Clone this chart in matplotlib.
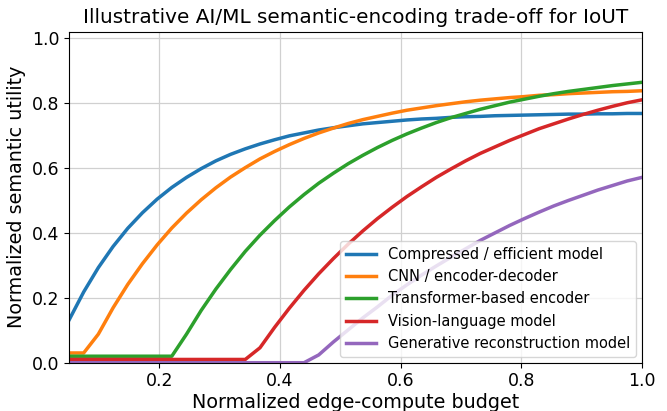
import matplotlib

matplotlib.use("Agg")
import matplotlib.pyplot as plt  # noqa: E402

# edge-compute budget grid (40 samples between 0.05 and 1.0)
budget = [0.0500, 0.0744, 0.0987, 0.1231, 0.1474, 0.1718, 0.1962, 0.2205,
          0.2449, 0.2692, 0.2936, 0.3179, 0.3423, 0.3667, 0.3910, 0.4154,
          0.4397, 0.4641, 0.4885, 0.5128, 0.5372, 0.5615, 0.5859, 0.6103,
          0.6346, 0.6590, 0.6833, 0.7077, 0.7321, 0.7564, 0.7808, 0.8051,
          0.8295, 0.8538, 0.8782, 0.9026, 0.9269, 0.9513, 0.9756, 1.0000]

compressed = [0.131, 0.218, 0.293, 0.358, 0.414, 0.462, 0.504, 0.540,
              0.571, 0.598, 0.622, 0.642, 0.659, 0.674, 0.687, 0.699,
              0.708, 0.717, 0.724, 0.730, 0.736, 0.740, 0.744, 0.748,
              0.751, 0.753, 0.756, 0.758, 0.759, 0.761, 0.762, 0.763,
              0.764, 0.765, 0.766, 0.766, 0.767, 0.767, 0.768, 0.768]

cnn = [0.030, 0.030, 0.088, 0.169, 0.241, 0.305, 0.363, 0.415,
       0.461, 0.502, 0.539, 0.572, 0.601, 0.628, 0.651, 0.672,
       0.691, 0.708, 0.723, 0.737, 0.749, 0.759, 0.769, 0.778,
       0.785, 0.792, 0.798, 0.804, 0.809, 0.813, 0.817, 0.820,
       0.824, 0.826, 0.829, 0.831, 0.833, 0.835, 0.836, 0.838]

transformer = [0.020, 0.020, 0.020, 0.020, 0.020, 0.020, 0.020, 0.020,
               0.088, 0.161, 0.227, 0.287, 0.343, 0.393, 0.438, 0.480,
               0.518, 0.553, 0.584, 0.613, 0.639, 0.663, 0.685, 0.705,
               0.723, 0.740, 0.755, 0.768, 0.781, 0.792, 0.803, 0.812,
               0.821, 0.829, 0.836, 0.842, 0.848, 0.854, 0.859, 0.864]

vlm = [0.010, 0.010, 0.010, 0.010, 0.010, 0.010, 0.010, 0.010,
       0.010, 0.010, 0.010, 0.010, 0.010, 0.046, 0.109, 0.168,
       0.223, 0.274, 0.321, 0.365, 0.406, 0.444, 0.479, 0.512,
       0.542, 0.571, 0.597, 0.622, 0.645, 0.665, 0.685, 0.703,
       0.721, 0.736, 0.751, 0.765, 0.778, 0.790, 0.801, 0.810]

generative = [0.000, 0.000, 0.000, 0.000, 0.000, 0.000, 0.000, 0.000,
              0.000, 0.000, 0.000, 0.000, 0.000, 0.000, 0.000, 0.000,
              0.000, 0.024, 0.064, 0.101, 0.138, 0.172, 0.208, 0.240,
              0.270, 0.298, 0.325, 0.351, 0.377, 0.400, 0.423, 0.444,
              0.464, 0.483, 0.500, 0.516, 0.532, 0.546, 0.560, 0.571]

labels = ["Compressed / efficient model", "CNN / encoder-decoder",
          "Transformer-based encoder", "Vision-language model",
          "Generative reconstruction model"]
colors = ["#1f77b4", "#ff7f0e", "#2ca02c", "#d62728", "#9467bd"]

fig = plt.figure(figsize=(6.67, 4.11), dpi=100)
ax = fig.add_axes([0.1034, 0.1175, 0.859, 0.8054])

for ys, lab, c in zip([compressed, cnn, transformer, vlm, generative],
                      labels, colors):
    ax.plot(budget, ys, color=c, lw=2.5, label=lab)

ax.set_xlim(0.05, 1.0)
ax.set_ylim(0.0, 1.02)
ax.set_xticks([0.2, 0.4, 0.6, 0.8, 1.0])
ax.set_yticks([0.0, 0.2, 0.4, 0.6, 0.8, 1.0])
ax.tick_params(labelsize=12.5)
ax.grid(True, color="#d0d0d0", lw=0.9)
ax.set_axisbelow(True)
ax.set_xlabel("Normalized edge-compute budget", fontsize=13.8, labelpad=2)
ax.set_ylabel("Normalized semantic utility", fontsize=13.8)
ax.set_title("Illustrative AI/ML semantic-encoding trade-off for IoUT",
             fontsize=14.4)
ax.legend(loc="lower right", fontsize=10.5, handlelength=2.1,
          borderaxespad=0.4, labelspacing=0.5)

fig.savefig("out.png", dpi=100)
